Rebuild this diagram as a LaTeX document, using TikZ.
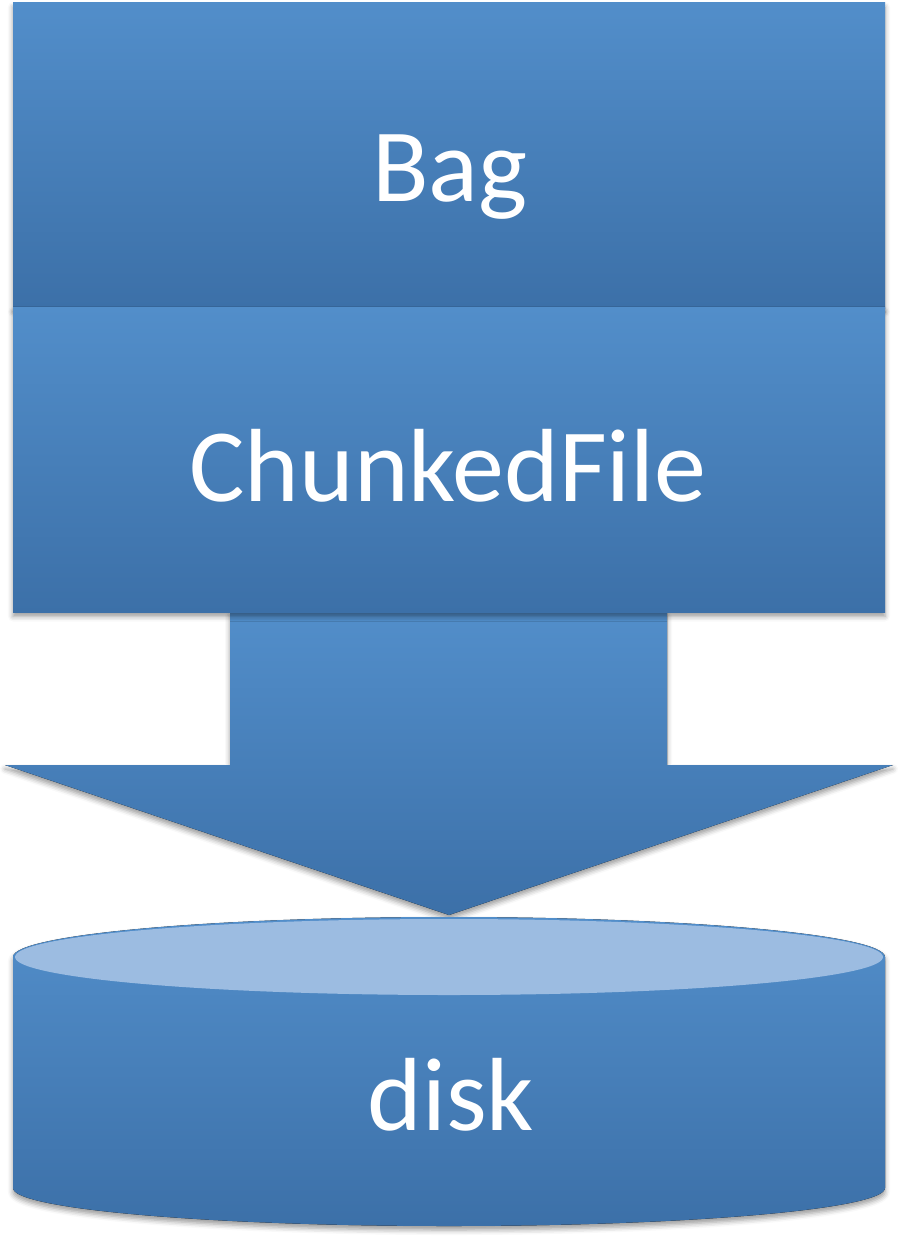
\documentclass[tikz,border=0pt]{standalone}
\usepackage{fontspec}
\setmainfont{Carlito}
\usetikzlibrary{shadows.blur}
\definecolor{bluetop}{RGB}{82,142,202}
\definecolor{bluemid}{RGB}{70,130,194}
\definecolor{bluebot}{RGB}{60,112,168}
\definecolor{disktop}{RGB}{156,188,225}

\begin{document}
\begin{tikzpicture}[x=1pt,y=-1pt,
    grad/.style={top color=bluetop,middle color=bluemid,bottom color=bluebot},
    soft/.style={blur shadow={shadow xshift=0pt,shadow yshift=-4pt,shadow blur radius=5pt,shadow opacity=40}},
    block/.style={grad,soft,draw=none,minimum width=872pt,minimum height=305pt,inner sep=0pt},
    lbl/.style={anchor=base,text=white,font=\fontsize{104}{112}\selectfont}]
    \useasboundingbox (0,0) rectangle (898,1239);
    % block arrow down to the disk
    \coordinate (tip) at (449,915);
    \fill[grad,soft] (230,612) -- (667,612) -- (667,765) -- (893,765) -- (tip) -- (5,765) -- (230,765) -- cycle;
    \node[block] (bag) at (449,155.5) {};
    \node[block] (chunk) at (449,460) {};
    \node[lbl] at (450,201) {Bag};
    \node[lbl] at (448,501) {ChunkedFile};
    % disk
    \fill[grad,soft] (13,957) -- (13,1188) arc[start angle=180,end angle=360,x radius=436pt,y radius=38pt]
        -- (885,957) arc[start angle=0,end angle=180,x radius=436pt,y radius=40pt] -- cycle;
    \fill[disktop] (449,957) ellipse[x radius=434pt,y radius=38pt];
    \node[lbl] (disk) at (451,1130) {disk};
\end{tikzpicture}
\end{document}
